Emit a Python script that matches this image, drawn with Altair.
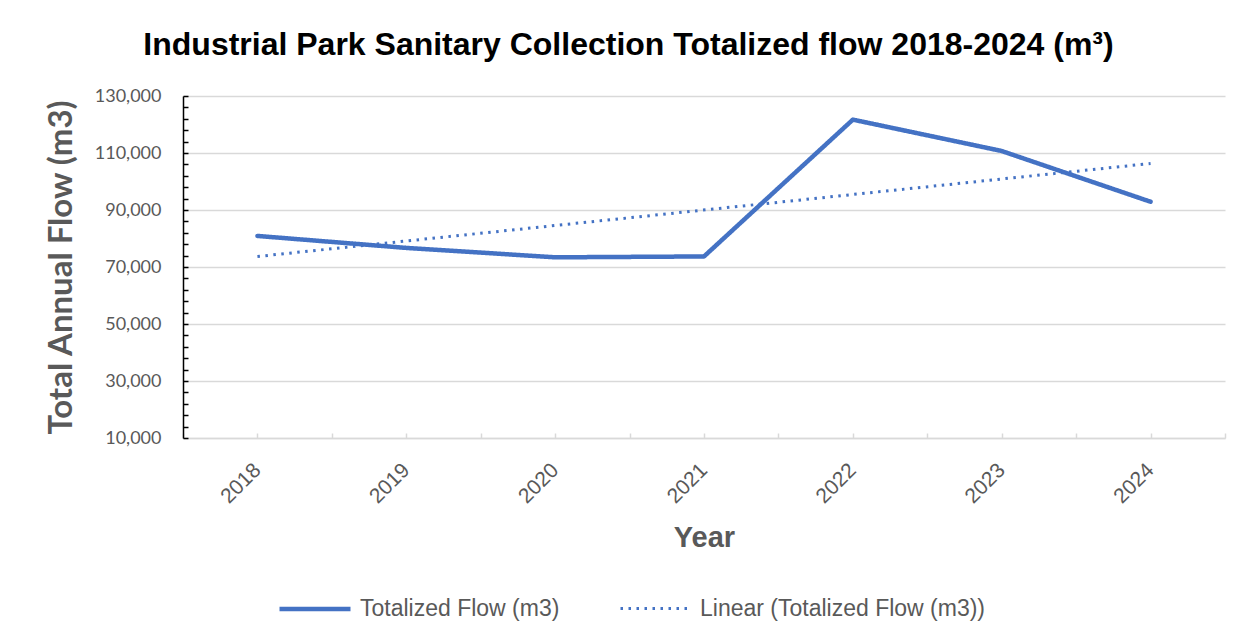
import altair as alt
import pandas as pd

years = [2018, 2019, 2020, 2021, 2022, 2023, 2024]
flows = [80900, 76700, 73400, 73700, 121700, 110700, 92900]
series_names = ["Totalized Flow (m3)", "Linear (Totalized Flow (m3))"]
y_major = [10000, 30000, 50000, 70000, 90000, 110000, 130000]
y_minor = list(range(10000, 130001, 4000))
x_minor = [2017.5, 2018, 2018.5, 2019, 2019.5, 2020, 2020.5, 2021, 2021.5,
           2022, 2022.5, 2023, 2023.5, 2024, 2024.5]

df = pd.DataFrame({"year": years, "flow": flows})

BLUE = "#4472C4"
GREY = "#595959"

x_scale = alt.Scale(domain=[2017.5, 2024.5], nice=False, zero=False)
y_scale = alt.Scale(domain=[10000, 130000], nice=False, zero=False)
color_scale = alt.Scale(domain=series_names, range=[BLUE, BLUE])
dash_scale = alt.Scale(domain=series_names, range=[[1, 0], [2.5, 5.5]])
width_scale = alt.Scale(domain=series_names, range=[4.5, 3])

legend = alt.Legend(
    orient="none", legendX=94, legendY=475, direction="horizontal",
    title=None, symbolType="stroke", symbolSize=5041,
    labelFont="Liberation Sans", labelFontSize=23, labelColor=GREY,
    labelLimit=600, labelOffset=7, columnPadding=54,
)

series_enc = dict(
    color=alt.Color("series:N", scale=color_scale, legend=legend),
    strokeDash=alt.StrokeDash("series:N", scale=dash_scale, legend=legend),
    strokeWidth=alt.StrokeWidth("series:N", scale=width_scale, legend=legend),
)

main_line = alt.Chart(df).transform_calculate(
    series=f"'{series_names[0]}'"
).mark_line(strokeJoin="round", strokeCap="round").encode(
    x=alt.X("year:Q", scale=x_scale, axis=alt.Axis(
        orient="bottom", values=years, format="d", labelAngle=-45,
        ticks=False, grid=False, domain=True, domainColor="#d9d9d9", domainWidth=1.5,
        labelFont="Liberation Sans", labelFontSize=21,
        labelColor=GREY, labelPadding=21, labelOffset=-8,
        title="Year", titleFont="Liberation Sans", titleFontWeight="bold",
        titleFontSize=29, titleColor=GREY, titlePadding=17)),
    y=alt.Y("flow:Q", scale=y_scale, axis=alt.Axis(
        orient="left", values=y_major, format=",.0f", ticks=False,
        grid=True, gridColor="#d9d9d9", gridWidth=1.5,
        domain=True, domainColor="black", domainWidth=1.5,
        labelFont="Lato", labelFontSize=18, labelColor=GREY, labelPadding=22,
        title="Total Annual Flow (m3)", titleFont="Lato", titleFontWeight="bold",
        titleFontSize=33, titleColor=GREY, titlePadding=16)),
    **series_enc,
)

trend = alt.Chart(df).transform_regression(
    "year", "flow", method="linear"
).transform_calculate(
    series=f"'{series_names[1]}'"
).mark_line(strokeCap="butt").encode(
    x=alt.X("year:Q", scale=x_scale, axis=alt.Axis(
        orient="bottom", values=x_minor, offset=-5, labels=False, grid=False,
        domain=False, ticks=True, tickColor="#d9d9d9", tickSize=5, tickWidth=1.5,
        title=None)),
    y=alt.Y("flow:Q", scale=y_scale, axis=alt.Axis(
        orient="left", values=y_minor, offset=-5, labels=False, grid=False,
        domain=False, ticks=True, tickColor="black", tickSize=5, tickWidth=1.5,
        title=None)),
    **series_enc,
)

chart = alt.layer(main_line, trend).resolve_axis(
    x="independent", y="independent"
).properties(
    width=1042, height=342,
    autosize=alt.AutoSizeParams(type="none"),
    padding={"left": 175, "top": 88, "right": 20, "bottom": 186},
    title=alt.TitleParams(
        text="Industrial Park Sanitary Collection Totalized flow 2018-2024 (m³)",
        font="Liberation Sans", fontSize=32, fontWeight="bold", color="black",
        anchor="middle", frame="bounds", baseline="alphabetic", offset=0, dx=-7),
).configure_view(stroke=None)

chart.save("out.html", embed_options={"renderer": "svg", "actions": False})
